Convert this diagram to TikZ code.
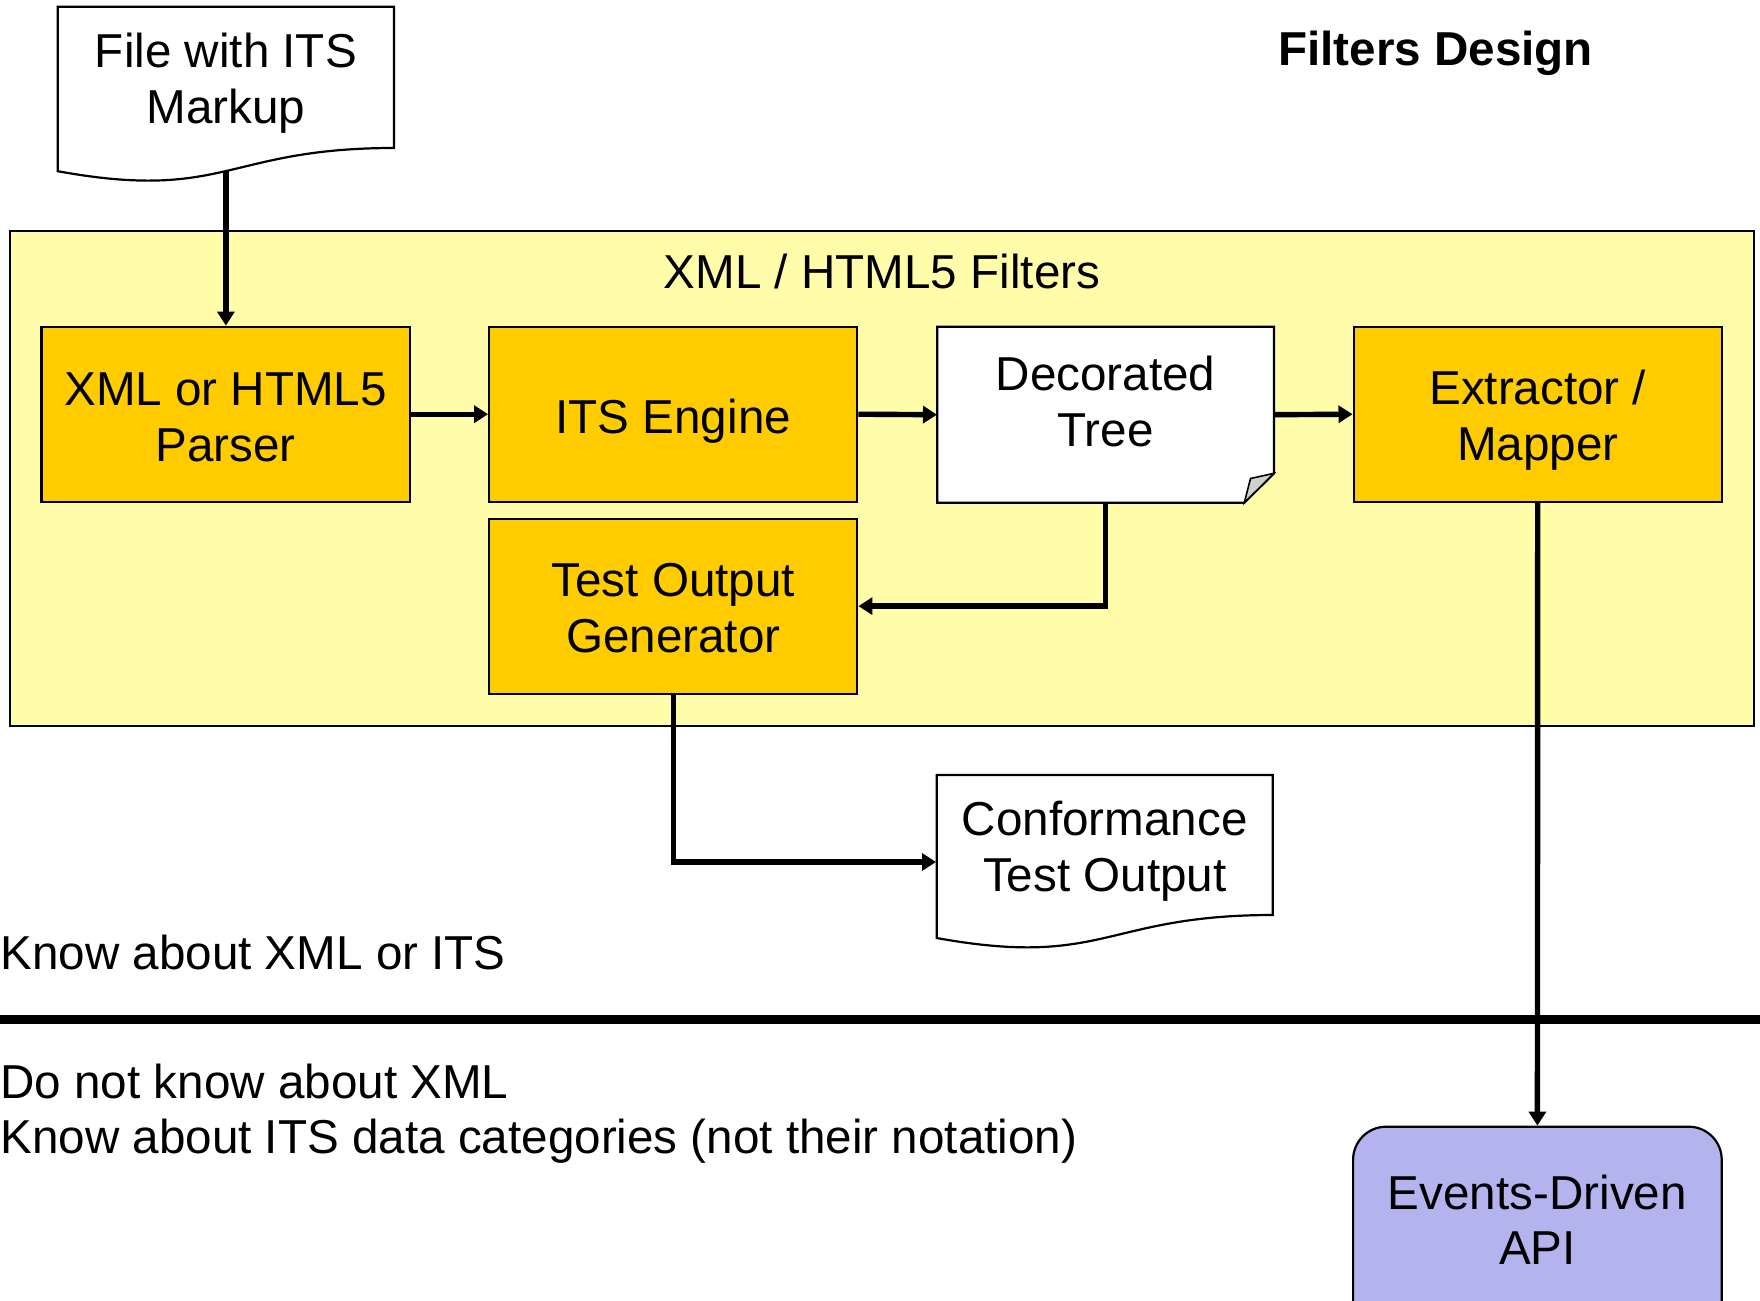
\documentclass[tikz,border=0pt]{standalone}
\usepackage{fontspec}
\setmainfont{Liberation Sans}
\usetikzlibrary{arrows.meta}
\definecolor{contyellow}{HTML}{FFFCAA}
\definecolor{boxorange}{HTML}{FFCC00}
\definecolor{apiblue}{HTML}{B3B3EE}
\definecolor{foldgray}{HTML}{D0D0D0}
\begin{document}
\begin{tikzpicture}[x=0.5pt,y=-0.5pt,
  lbl/.style={font=\fontsize{23.8}{27.8}\selectfont, align=center, inner sep=0pt},
  procbox/.style={draw, line width=1.1pt, fill=boxorange, minimum width=184.1pt, minimum height=87.5pt, inner sep=0pt},
  ghost/.style={inner sep=0pt, minimum width=168.3pt, minimum height=87.5pt},
  shapeline/.style={draw, line width=1.1pt},
  arr/.style={line width=2.7pt, -{Triangle[length=7pt,width=8.5pt]}},
]
\clip (0,0) rectangle (1760,1300);
\fill[white] (0,0) rectangle (1760,1300);

% title
\node[font=\bfseries\fontsize{23.8}{27.8}\selectfont, anchor=base, inner sep=0pt] (title) at (1435.6,66) {Filters Design};

% container
\node[draw, fill=contyellow, line width=1pt, minimum width=872pt, minimum height=247.6pt, inner sep=0pt] (filters) at (882,478.4) {};
\node[lbl] (filterslbl) at (882,271) {XML / HTML5 Filters};

% file document
\path[shapeline, fill=white] (57.7,6.7) -- (394,6.7) -- (394,148) .. controls (225.9,148) and (225.9,201.8) .. (57.7,171.2) -- cycle;
\node[lbl] (file) at (225.9,83.4) {File with ITS\\Markup};
\coordinate (filebot) at (225.9,171.1);

% process boxes
\node[procbox] (parser) at (225.6,414.2) {};
\node[lbl] (parserlbl) at ([yshift=-1.7pt]parser.center) {XML or HTML5\\Parser};
\node[procbox] (engine) at (673.25,414.2) {};
\node[lbl] (enginelbl) at ([yshift=-3.3pt]engine.center) {ITS Engine};
\node[procbox] (extractor) at (1537.7,414.2) {};
\node[lbl] (extractorlbl) at ([yshift=-3pt]extractor.center) {Extractor /\\Mapper};
\node[procbox] (testgen) at (673.25,606.1) {};
\node[lbl] (testgenlbl) at ([yshift=-1.1pt]testgen.center) {Test Output\\Generator};

% decorated tree
\path[shapeline, fill=white] (937.3,326.7) -- (1274,326.7) -- (1274,473.3) -- (1244.3,502.7) -- (937.3,502.7) -- cycle;
\path[shapeline, fill=foldgray, line width=0.8pt] (1274,473.3) -- (1250.5,478.5) -- (1244.3,502.7) -- cycle;
\node[ghost] (tree) at (1105.65,414.7) {};
\node[lbl] (treelbl) at (1105.65,401.5) {Decorated\\Tree};

% conformance document
\path[shapeline, fill=white] (936.7,775) -- (1272.7,775) -- (1272.7,915) .. controls (1104.7,915) and (1104.7,968.4) .. (936.7,938) -- cycle;
\node[ghost] (conf) at (1104.7,862) {};
\node[lbl] (conflbl) at (1104.7,851.4) {Conformance\\Test Output};

% connectors
\draw[arr] (filebot) -- (filebot |- parser.north);
\draw[arr] (parser.east) -- (engine.west);
\draw[arr] (engine.east) -- (tree.west);
\draw[arr] (tree.east) -- (extractor.west);
\draw[arr] (tree.south) |- (testgen.east);
\draw[arr] (testgen.south) |- (conf.west);

% divider
\draw[line width=4.5pt] (0,1019) -- (1760,1019);

% API
\node[draw, fill=apiblue, line width=1.1pt, rounded corners=16.5pt, minimum width=184.3pt, minimum height=150pt, inner sep=0pt] (api) at (1537.4,1276.7) {};
\node[lbl] (apilbl) at (1537.4,1219.8) {Events-Driven\\API};
\draw[arr] (extractor.south) -- (api.north);

% side texts
\node[lbl, anchor=west] (know) at (0,952) {Know about XML or ITS};
\node[lbl, anchor=west, align=left] (donot) at (0,1113.5) {Do not know about XML\\Know about ITS data categories (not their notation)};
\end{tikzpicture}
\end{document}
